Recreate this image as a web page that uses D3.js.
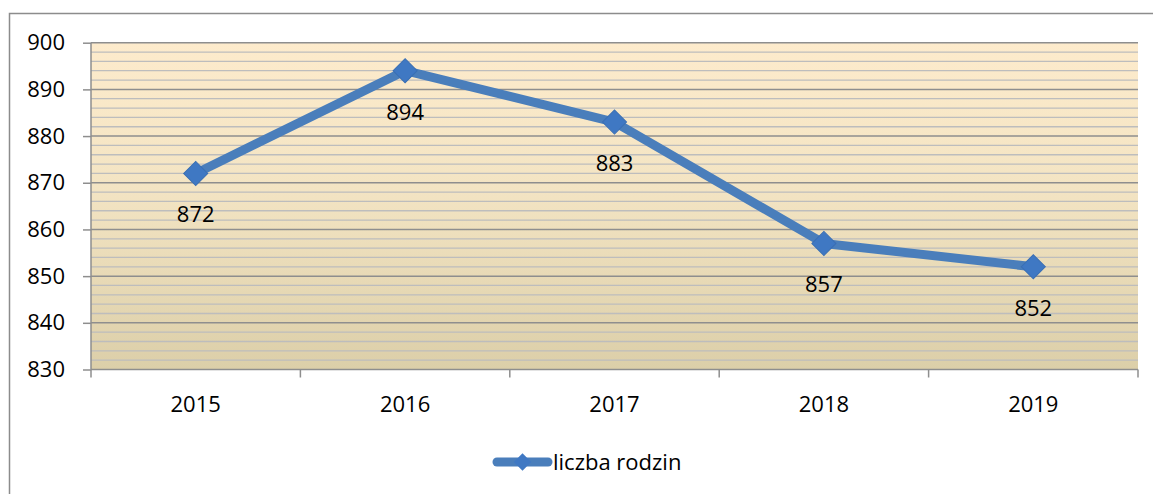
<!DOCTYPE html>
<html>
<head>
<meta charset="utf-8">
<script src="https://cdn.jsdelivr.net/npm/d3@7"></script>
<style>
	html, body { margin: 0; padding: 0; background: #ffffff; }
	svg { display: block; }
	text { font-family: 'Open Sans', 'Liberation Sans', sans-serif; fill: #000; }
</style>
</head>
<body>
<svg id="chart" width="1153" height="494"></svg>
<script>
// data
var years = [ '2015', '2016', '2017', '2018', '2019' ];
var families = [ 872, 894, 883, 857, 852 ];
var yTicks = [ 830, 840, 850, 860, 870, 880, 890, 900 ];
var seriesName = 'liczba rodzin';

var W = 1153, H = 494;
var plot = { left: 91, right: 1138, top: 42.7, bottom: 369.5 };
var lineColor = '#4a7ebb',
	markerColor = '#3f78c3';

var svg = d3.select( '#chart' );

// outer frame of the chart object
svg.append( 'rect' )
	.attr( 'x', 9.5 ).attr( 'y', 13.5 )
	.attr( 'width', W + 10 ).attr( 'height', H + 10 )
	.attr( 'fill', 'none' )
	.attr( 'stroke', '#8c8c8c' )
	.attr( 'stroke-width', 1.5 );

var x = d3.scaleBand()
	.domain( years )
	.range( [ plot.left, plot.right ] )
	.paddingInner( 0 ).paddingOuter( 0 );

var y = d3.scaleLinear()
	.domain( [ 830, 900 ] )
	.range( [ plot.bottom, plot.top ] );

// plot area background gradient
var grad = svg.append( 'defs' ).append( 'linearGradient' )
	.attr( 'id', 'bg' )
	.attr( 'x1', 0 ).attr( 'y1', 0 ).attr( 'x2', 0 ).attr( 'y2', 1 );
grad.append( 'stop' ).attr( 'offset', '0%' ).attr( 'stop-color', '#fdebcc' );
grad.append( 'stop' ).attr( 'offset', '45%' ).attr( 'stop-color', '#f3e4c3' );
grad.append( 'stop' ).attr( 'offset', '100%' ).attr( 'stop-color', '#dccfa9' );

svg.append( 'rect' )
	.attr( 'x', plot.left ).attr( 'y', plot.top )
	.attr( 'width', plot.right - plot.left )
	.attr( 'height', plot.bottom - plot.top )
	.attr( 'fill', 'url(#bg)' );

// minor gridlines every 2
var minor = d3.range( 832, 900, 2 ).filter( function( _v ) { return _v % 10 !== 0; } );
svg.append( 'g' ).selectAll( 'line' )
	.data( minor )
	.enter().append( 'line' )
	.attr( 'x1', plot.left ).attr( 'x2', plot.right )
	.attr( 'y1', function( _d ) { return y( _d ); } )
	.attr( 'y2', function( _d ) { return y( _d ); } )
	.attr( 'stroke', '#bdbdbd' )
	.attr( 'stroke-width', 1.3 );

// major gridlines
svg.append( 'g' ).selectAll( 'line' )
	.data( yTicks.slice( 1 ) )
	.enter().append( 'line' )
	.attr( 'x1', plot.left ).attr( 'x2', plot.right )
	.attr( 'y1', function( _d ) { return y( _d ); } )
	.attr( 'y2', function( _d ) { return y( _d ); } )
	.attr( 'stroke', '#8e8e8e' )
	.attr( 'stroke-width', 1.5 );

// y axis
var yAxis = svg.append( 'g' )
	.attr( 'transform', 'translate(' + plot.left + ',0)' )
	.call( d3.axisLeft( y ).tickValues( yTicks ).tickSize( 8 ).tickPadding( 18 ) );
yAxis.selectAll( 'line, path' ).attr( 'stroke', '#8e8e8e' ).attr( 'stroke-width', 1.5 );
yAxis.select( '.domain' ).attr( 'd', 'M0,' + plot.top + 'V' + plot.bottom );
yAxis.selectAll( 'text' )
	.style( 'font-size', '22px' )
	.style( 'font-family', "'Open Sans', sans-serif" )
	.attr( 'fill', '#000' );

// x axis: ticks sit between categories
var xAxis = svg.append( 'g' )
	.attr( 'transform', 'translate(0,' + plot.bottom + ')' );
xAxis.append( 'line' )
	.attr( 'x1', plot.left ).attr( 'x2', plot.right )
	.attr( 'stroke', '#8e8e8e' ).attr( 'stroke-width', 1.5 );
var bounds = years.map( function( _d ) { return x( _d ); } ).concat( [ plot.right ] );
xAxis.selectAll( 'line.tick' )
	.data( bounds )
	.enter().append( 'line' )
	.attr( 'class', 'tick' )
	.attr( 'x1', function( _d ) { return _d; } )
	.attr( 'x2', function( _d ) { return _d; } )
	.attr( 'y1', 0 ).attr( 'y2', 8 )
	.attr( 'stroke', '#8e8e8e' ).attr( 'stroke-width', 1.5 );
xAxis.selectAll( 'text' )
	.data( years )
	.enter().append( 'text' )
	.attr( 'x', function( _d ) { return x( _d ) + x.bandwidth() / 2; } )
	.attr( 'y', 42 )
	.attr( 'text-anchor', 'middle' )
	.style( 'font-size', '22px' )
	.text( function( _d ) { return _d; } );

// series line
var pts = years.map( function( _yr, _i ) {
	return { year: _yr, value: families[ _i ] };
} );
var line = d3.line()
	.x( function( _d ) { return x( _d.year ) + x.bandwidth() / 2; } )
	.y( function( _d ) { return y( _d.value ); } );

svg.append( 'path' )
	.datum( pts )
	.attr( 'd', line )
	.attr( 'fill', 'none' )
	.attr( 'stroke', lineColor )
	.attr( 'stroke-width', 9 )
	.attr( 'stroke-linejoin', 'round' )
	.attr( 'stroke-linecap', 'round' );

var diamond = d3.symbol().type( d3.symbolSquare ).size( 290 );

svg.append( 'g' ).selectAll( 'path' )
	.data( pts )
	.enter().append( 'path' )
	.attr( 'd', diamond )
	.attr( 'transform', function( _d ) {
		return 'translate(' + ( x( _d.year ) + x.bandwidth() / 2 ) + ',' + y( _d.value ) + ') rotate(45)';
	} )
	.attr( 'fill', markerColor )
	.attr( 'stroke', '#3a6fb4' )
	.attr( 'stroke-width', 1 );

// data labels below points
svg.append( 'g' ).selectAll( 'text' )
	.data( pts )
	.enter().append( 'text' )
	.attr( 'x', function( _d ) { return x( _d.year ) + x.bandwidth() / 2; } )
	.attr( 'y', function( _d ) { return y( _d.value ) + 49; } )
	.attr( 'text-anchor', 'middle' )
	.style( 'font-size', '22px' )
	.text( function( _d ) { return _d.value; } );

// legend
var lg = svg.append( 'g' ).attr( 'transform', 'translate(493,462)' );
lg.append( 'line' )
	.attr( 'x1', 4 ).attr( 'x2', 55 )
	.attr( 'stroke', lineColor ).attr( 'stroke-width', 9 )
	.attr( 'stroke-linecap', 'round' );
lg.append( 'path' )
	.attr( 'd', d3.symbol().type( d3.symbolSquare ).size( 150 ) )
	.attr( 'transform', 'translate(29.5,0) rotate(45)' )
	.attr( 'fill', markerColor );
lg.append( 'text' )
	.attr( 'x', 60 ).attr( 'y', 8 )
	.style( 'font-size', '22px' )
	.text( seriesName );
</script>
</body>
</html>
